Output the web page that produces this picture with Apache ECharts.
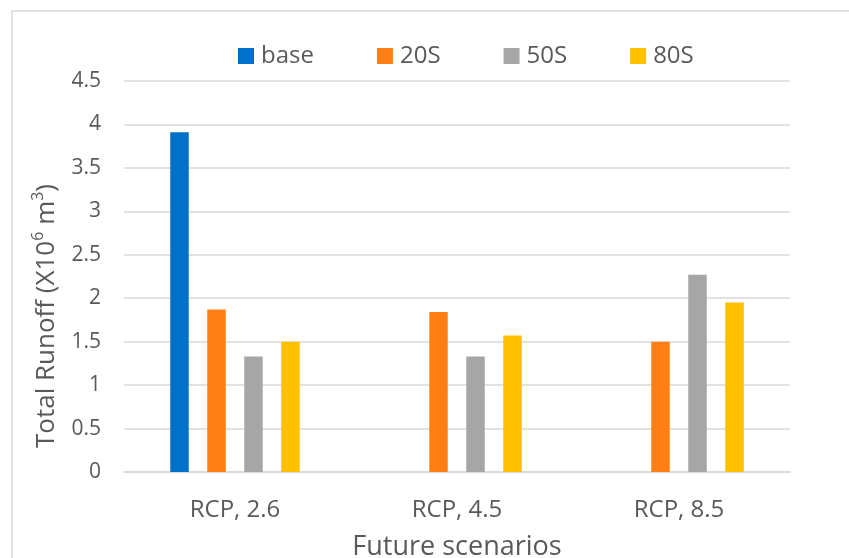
<!DOCTYPE html>
<html>
<head>
<meta charset="utf-8">
<script src="https://cdn.jsdelivr.net/npm/echarts@6/dist/echarts.min.js"></script>
<style>
  html, body { margin: 0; padding: 0; background: #fff; }
  #chart { width: 849px; height: 558px; }
</style>
</head>
<body>
<div id="chart"></div>
<script>
// Scenario categories along the x axis
const categories = ['RCP, 2.6', 'RCP, 4.5', 'RCP, 8.5'];

// Total runoff (x10^6 m^3) per period; base only exists for the first group
const baseValues = [3.91, null, null];
const s20Values = [1.87, 1.84, 1.50];
const s50Values = [1.33, 1.33, 2.27];
const s80Values = [1.50, 1.57, 1.95];

const seriesNames = ['base', '20S', '50S', '80S'];
const seriesColors = ['#0070C8', '#FF7F15', '#A6A6A6', '#FFC000'];

const textColor = '#595959';
const fontFamily = '"Open Sans", "DejaVu Sans", sans-serif';

const chart = echarts.init(document.getElementById('chart'));

const values = [baseValues, s20Values, s50Values, s80Values];

chart.setOption({
  animation: false,
  textStyle: { fontFamily: fontFamily },
  graphic: [
    {
      type: 'rect',
      shape: { x: 12, y: 11, width: 900, height: 600 },
      style: { fill: 'none', stroke: '#D9D9D9', lineWidth: 1.5 },
      silent: true
    },
    {
      // rotated y-axis title with superscript exponents
      type: 'text',
      x: 45,
      y: 316,
      rotation: Math.PI / 2,
      style: {
        text: '{a|Total Runoff (X10}{s|6}{a| m}{s|3}{a|)}',
        align: 'center',
        verticalAlign: 'middle',
        rich: {
          a: { fontSize: 26, fill: textColor, fontFamily: fontFamily, verticalAlign: 'bottom', lineHeight: 30 },
          s: { fontSize: 16, fill: textColor, fontFamily: fontFamily, verticalAlign: 'top', lineHeight: 30 }
        }
      }
    }
  ],
  legend: {
    left: 233,
    top: 39,
    itemWidth: 16,
    itemHeight: 16,
    itemGap: 63,
    icon: 'rect',
    textStyle: { color: textColor, fontSize: 24, fontFamily: fontFamily, padding: [0, 0, 0, 2] },
    data: seriesNames
  },
  grid: { left: 124, right: 59, top: 81, bottom: 86, containLabel: false, outerBoundsMode: 'none' },
  xAxis: {
    type: 'category',
    data: categories,
    name: 'Future scenarios',
    nameLocation: 'middle',
    nameGap: 62,
    nameTextStyle: { color: textColor, fontSize: 27, fontFamily: fontFamily },
    axisLine: { show: true, lineStyle: { color: '#D9D9D9', width: 1.5 } },
    axisTick: { show: false },
    axisLabel: { color: textColor, fontSize: 24, margin: 26, fontFamily: fontFamily }
  },
  yAxis: {
    type: 'value',
    min: 0,
    max: 4.5,
    interval: 0.5,
    axisLine: { show: false },
    axisTick: { show: false },
    axisLabel: { color: textColor, fontSize: 21, margin: 23, fontFamily: fontFamily },
    splitLine: { lineStyle: { color: '#D9D9D9', width: 1.5 } }
  },
  series: seriesNames.map((name, i) => ({
    name: name,
    type: 'bar',
    data: values[i],
    barWidth: 18.5,
    barGap: '100%',
    itemStyle: { color: seriesColors[i] }
  }))
});
</script>
</body>
</html>
